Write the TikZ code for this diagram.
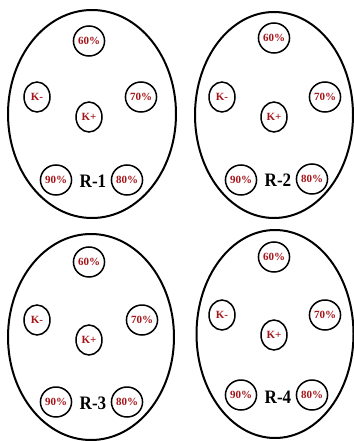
\documentclass[tikz,border=0pt]{standalone}
\usepackage{fontspec}
\setmainfont{Liberation Serif}
\usetikzlibrary{shapes.geometric}
\definecolor{lbl}{RGB}{165,20,25}
\tikzset{
  plate/.style={draw=black, line width=2pt, ellipse, inner sep=0pt},
  well/.style={draw=black, line width=1.5pt, ellipse, minimum width=26pt, minimum height=30pt, inner sep=0pt,
    font=\fontsize{11}{11}\selectfont\bfseries, text=lbl},
  rlabel/.style={font=\fontsize{19}{19}\selectfont\bfseries, text=black, xscale=0.9}
}
\begin{document}
\begin{tikzpicture}[x=1pt,y=-1pt]
\useasboundingbox (0,0) rectangle (353,441);
% plate R-1
\node[plate, minimum width=168pt, minimum height=208pt] (p1) at (92,114) {};
\node[well] (p1a) at (89,41) {60\%};
\node[well] (p1b) at (37,97) {K-};
\node[well] (p1c) at (141,97) {70\%};
\node[well] (p1d) at (89,117) {K+};
\node[well] (p1e) at (56,180) {90\%};
\node[well] (p1f) at (127,180) {80\%};
\node[rlabel] (p1l) at (93,181) {R-1};
% plate R-2
\node[plate, minimum width=158pt, minimum height=206pt] (p2) at (274,115) {};
\node[well] (p2a) at (274,38) {60\%};
\node[well] (p2b) at (222,97) {K-};
\node[well] (p2c) at (325,97) {70\%};
\node[well] (p2d) at (274,117) {K+};
\node[well] (p2e) at (241,180) {90\%};
\node[well] (p2f) at (312,179) {80\%};
\node[rlabel] (p2l) at (278,180) {R-2};
% plate R-3
\node[plate, minimum width=166pt, minimum height=206pt] (p3) at (91,337) {};
\node[well] (p3a) at (89,262) {60\%};
\node[well] (p3b) at (37,320) {K-};
\node[well] (p3c) at (142,320) {70\%};
\node[well] (p3d) at (89,340) {K+};
\node[well] (p3e) at (56,402) {90\%};
\node[well] (p3f) at (127,402) {80\%};
\node[rlabel] (p3l) at (93,403) {R-3};
% plate R-4
\node[plate, minimum width=157pt, minimum height=208pt] (p4) at (275,334) {};
\node[well] (p4a) at (274,257) {60\%};
\node[well] (p4b) at (222,315) {K-};
\node[well] (p4c) at (325,315) {70\%};
\node[well] (p4d) at (274,335) {K+};
\node[well] (p4e) at (241,395) {90\%};
\node[well] (p4f) at (312,395) {80\%};
\node[rlabel] (p4l) at (278,397) {R-4};
\end{tikzpicture}
\end{document}
